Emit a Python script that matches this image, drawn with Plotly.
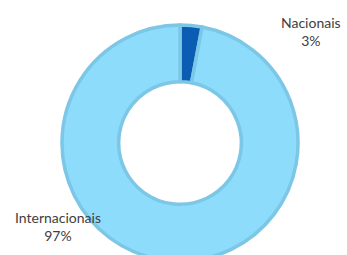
import plotly.graph_objects as go

labels = ["Nacionais", "Internacionais"]
values = [3, 97]
colors = ["#0A5DB3", "#8EDCFB"]

W, H = 347, 261
fig = go.Figure(go.Pie(
    labels=labels, values=values, sort=False, direction="clockwise", rotation=0,
    hole=0.52, textinfo="none", hoverinfo="label+percent",
    marker=dict(colors=colors, line=dict(color="#7CC6E6", width=3.5)),
    domain=dict(x=[62/W, 298/W], y=[0, 236/H]),
    showlegend=False,
))
total = sum(values)
pos = [(311/W, 1-31/H), (58/W, 1-226/H)]
for lab, v, (x, y) in zip(labels, values, pos):
    fig.add_annotation(text=f"{lab}<br>{round(100*v/total)}%", x=x, y=y, xref="paper", yref="paper",
                       showarrow=False, xanchor="center", yanchor="middle", align="center",
                       font=dict(family="Lato, Open Sans, sans-serif", size=14, color="#404040"))
fig.update_layout(width=W, height=H, margin=dict(l=0, r=0, t=0, b=0),
                  paper_bgcolor="white", plot_bgcolor="white")
fig.write_html("out.html", config={"displayModeBar": False},
               post_script="document.body.style.margin='0';document.body.style.overflow='hidden';document.documentElement.style.overflow='hidden';")
